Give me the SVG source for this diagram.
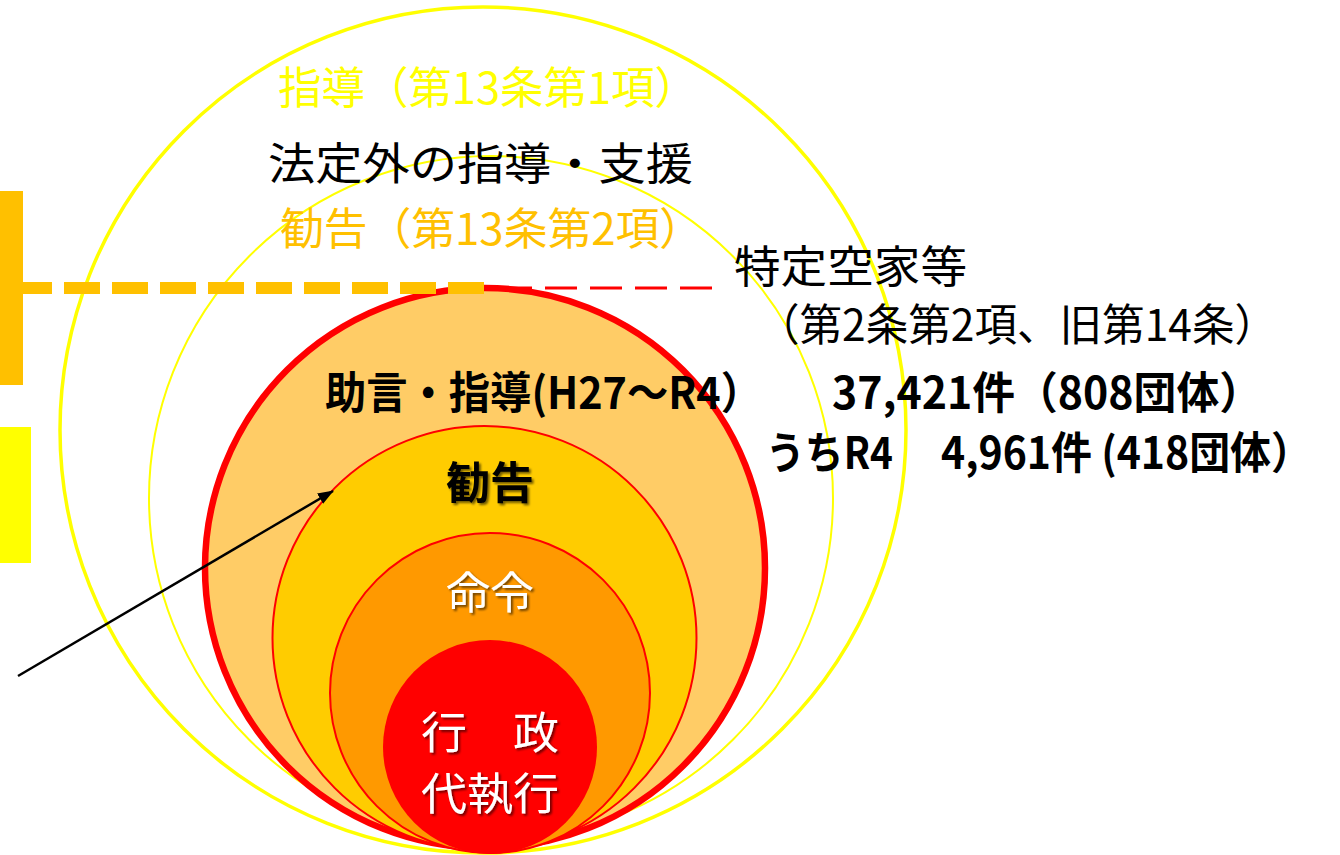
<svg xmlns="http://www.w3.org/2000/svg" width="1340" height="855" viewBox="0 0 1340 855">
<defs>
<style>
.t{font-family:"Noto Sans CJK JP","Noto Sans",sans-serif;font-size:44px}
.b{font-weight:bold}
.ring{fill:none;stroke:#FFFF00}
</style>
<filter id="sh" x="-20%" y="-20%" width="140%" height="140%">
<feDropShadow dx="2" dy="2" stdDeviation="1.2" flood-color="#000" flood-opacity="0.55"/>
</filter>
<marker id="ah" markerWidth="16" markerHeight="12" refX="15" refY="6" orient="auto" markerUnits="userSpaceOnUse" viewBox="0 0 16 12">
<path d="M0,0 L16,6 L0,12 z" fill="#000"/>
</marker>
</defs>
<rect width="1340" height="855" fill="#fff"/>

<g id="bars">
<rect x="0" y="191" width="23" height="194" fill="#FFC000"/>
<rect x="0" y="427" width="31" height="136" fill="#FFFF00"/>
</g>

<g id="ring-outer">
<circle class="ring" cx="483" cy="430" r="423" stroke-width="3.5"/>
</g>
<g id="ring-second">
<circle class="ring" cx="491" cy="498" r="342" stroke-width="2"/>
</g>

<g id="node-jogen">
<circle cx="485" cy="568" r="280" fill="#FFCC66" stroke="#FF0000" stroke-width="6.5"/>
</g>
<g id="node-kankoku">
<circle cx="484.5" cy="638" r="212" fill="#FFCC00" stroke="#FF0000" stroke-width="2"/>
<text class="t b" x="490" y="499" font-size="46" text-anchor="middle" fill="#000" filter="url(#sh)">勧告</text>
</g>
<g id="node-meirei">
<circle cx="490" cy="693" r="160" fill="#FF9900" stroke="#FF0000" stroke-width="2"/>
<text class="t" x="490" y="609" font-size="46" text-anchor="middle" fill="#fff" filter="url(#sh)">命令</text>
</g>
<g id="node-daishikko">
<circle cx="490" cy="747" r="107" fill="#FF0000"/>
<text class="t" x="421" y="749" font-size="42" fill="#fff" filter="url(#sh)" textLength="138" lengthAdjust="spacingAndGlyphs">行　政</text>
<text class="t" x="421" y="810" font-size="42" fill="#fff" filter="url(#sh)" textLength="138" lengthAdjust="spacingAndGlyphs">代執行</text>
</g>

<g id="connectors">
<line x1="16" y1="288" x2="484" y2="288" stroke="#FFC000" stroke-width="12" stroke-dasharray="36 12"/>
<line x1="712" y1="288" x2="486" y2="288" stroke="#FF0000" stroke-width="3" stroke-dasharray="32 13"/>
<line x1="18" y1="676" x2="333" y2="491" stroke="#000" stroke-width="2.5" marker-end="url(#ah)"/>
</g>

<g id="labels">
<text class="t" x="278" y="104" fill="#FFFF00" textLength="420" lengthAdjust="spacingAndGlyphs">指導（第13条第1項）</text>
<text class="t" x="268" y="180" fill="#000" textLength="425" lengthAdjust="spacingAndGlyphs">法定外の指導・支援</text>
<text class="t" x="280" y="245" fill="#FFC000" textLength="423" lengthAdjust="spacingAndGlyphs">勧告（第13条第2項）</text>
<text class="t" x="734" y="283" font-size="40" fill="#000" textLength="233" lengthAdjust="spacingAndGlyphs">特定空家等</text>
<text class="t" x="757" y="341" font-size="40" fill="#000" textLength="520" lengthAdjust="spacingAndGlyphs">（第2条第2項、旧第14条）</text>
<text class="t b" x="325" y="409" fill="#000" textLength="437" lengthAdjust="spacingAndGlyphs">助言・指導(H27～R4）</text>
<text class="t b" x="832" y="409" fill="#000" textLength="430" lengthAdjust="spacingAndGlyphs">37,421件（808団体）</text>
<text class="t b" x="766" y="469" fill="#000" textLength="127" lengthAdjust="spacingAndGlyphs">うちR4</text>
<text class="t b" x="941" y="469" fill="#000" textLength="371" lengthAdjust="spacingAndGlyphs">4,961件 (418団体）</text>
</g>
</svg>
